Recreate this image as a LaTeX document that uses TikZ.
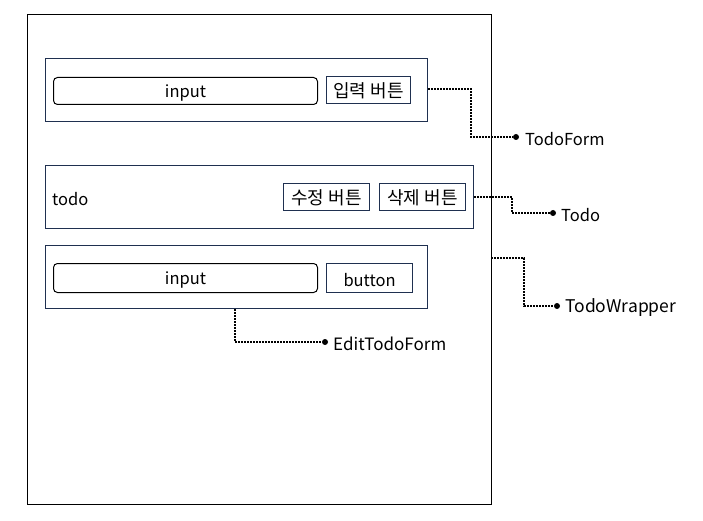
\documentclass[tikz,border=0pt]{standalone}
\usepackage{fontspec}
\setmainfont{Noto Sans CJK KR}
\definecolor{navy}{HTML}{1F3050}
\begin{document}
\begin{tikzpicture}[x=1pt,y=-1pt,
  frame/.style={draw=navy,line width=1.1pt},
  field/.style={draw=black,line width=1pt,rounded corners=4pt},
  btn/.style={draw=navy,line width=1.1pt},
  lbl/.style={font=\fontsize{16.5}{19}\selectfont,inner sep=0pt},
  inlbl/.style={lbl,yshift=-1.5pt},
  kor/.style={font=\fontsize{18}{20}\selectfont,inner sep=0pt,yshift=-0.5pt},
  conn/.style={line width=1.8pt,dash pattern=on 1.8pt off 1.2pt},
  dotc/.style={circle,fill=black,inner sep=0pt,minimum size=6pt}]
\useasboundingbox (0,0) rectangle (703,521);
\fill[white] (0,0) rectangle (703,521);
% outer wrapper
\draw[line width=1pt] (27,15) rectangle (491,504);
\coordinate (wrapR) at (491,258);
% TodoForm
\node[frame,minimum width=382pt,minimum height=63pt,anchor=north west] (tf) at (45,58) {};
\node[field,minimum width=264pt,minimum height=27pt,anchor=north west] (tfin) at (53,77) {};
\node[inlbl] at (tfin.center) {input};
\node[btn,minimum width=84pt,minimum height=27pt,anchor=north west] (tfbtn) at (326,76) {};
\node[kor] at (tfbtn.center) {입력 버튼};
% Todo
\node[frame,minimum width=428pt,minimum height=63pt,anchor=north west] (td) at (45,165) {};
\node[inlbl,anchor=west] (tdtxt) at (52,198) {todo};
\node[btn,minimum width=86pt,minimum height=27pt,anchor=north west] (edbtn) at (283,183) {};
\node[kor] at (edbtn.center) {수정 버튼};
\node[btn,minimum width=86pt,minimum height=27pt,anchor=north west] (delbtn) at (379,183) {};
\node[kor] at (delbtn.center) {삭제 버튼};
% EditTodoForm
\node[frame,minimum width=382pt,minimum height=63pt,anchor=north west] (ef) at (45,245) {};
\node[field,minimum width=264pt,minimum height=29pt,anchor=north west] (efin) at (53,263) {};
\node[inlbl] at (efin.center) {input};
\node[btn,minimum width=86pt,minimum height=29pt,anchor=north west] (efbtn) at (326,263) {};
\node[inlbl] at (efbtn.center) {button};
% labels
\node[dotc] (d1) at (516,137) {};
\node[lbl,anchor=west] (l1) at (525,139) {TodoForm};
\node[dotc] (d2) at (553,213) {};
\node[lbl,anchor=west] (l2) at (561,215) {Todo};
\node[dotc] (d3) at (557,306) {};
\node[lbl,anchor=west,font=\fontsize{17.5}{19}\selectfont] (l3) at (565,308) {TodoWrapper};
\node[dotc] (d4) at (325,342) {};
\node[lbl,anchor=west,font=\fontsize{17}{19}\selectfont] (l4) at (333,344) {EditTodoForm};
% connectors
\draw[conn] (tf.east |- 0,89) -| (471,137) -- (d1);
\draw[conn] (td.east |- 0,197) -| (512,213) -- (d2);
\draw[conn] (wrapR) -| (524,306) -- (d3);
\draw[conn] (ef.south -| 235,0) |- (d4);
\end{tikzpicture}
\end{document}
